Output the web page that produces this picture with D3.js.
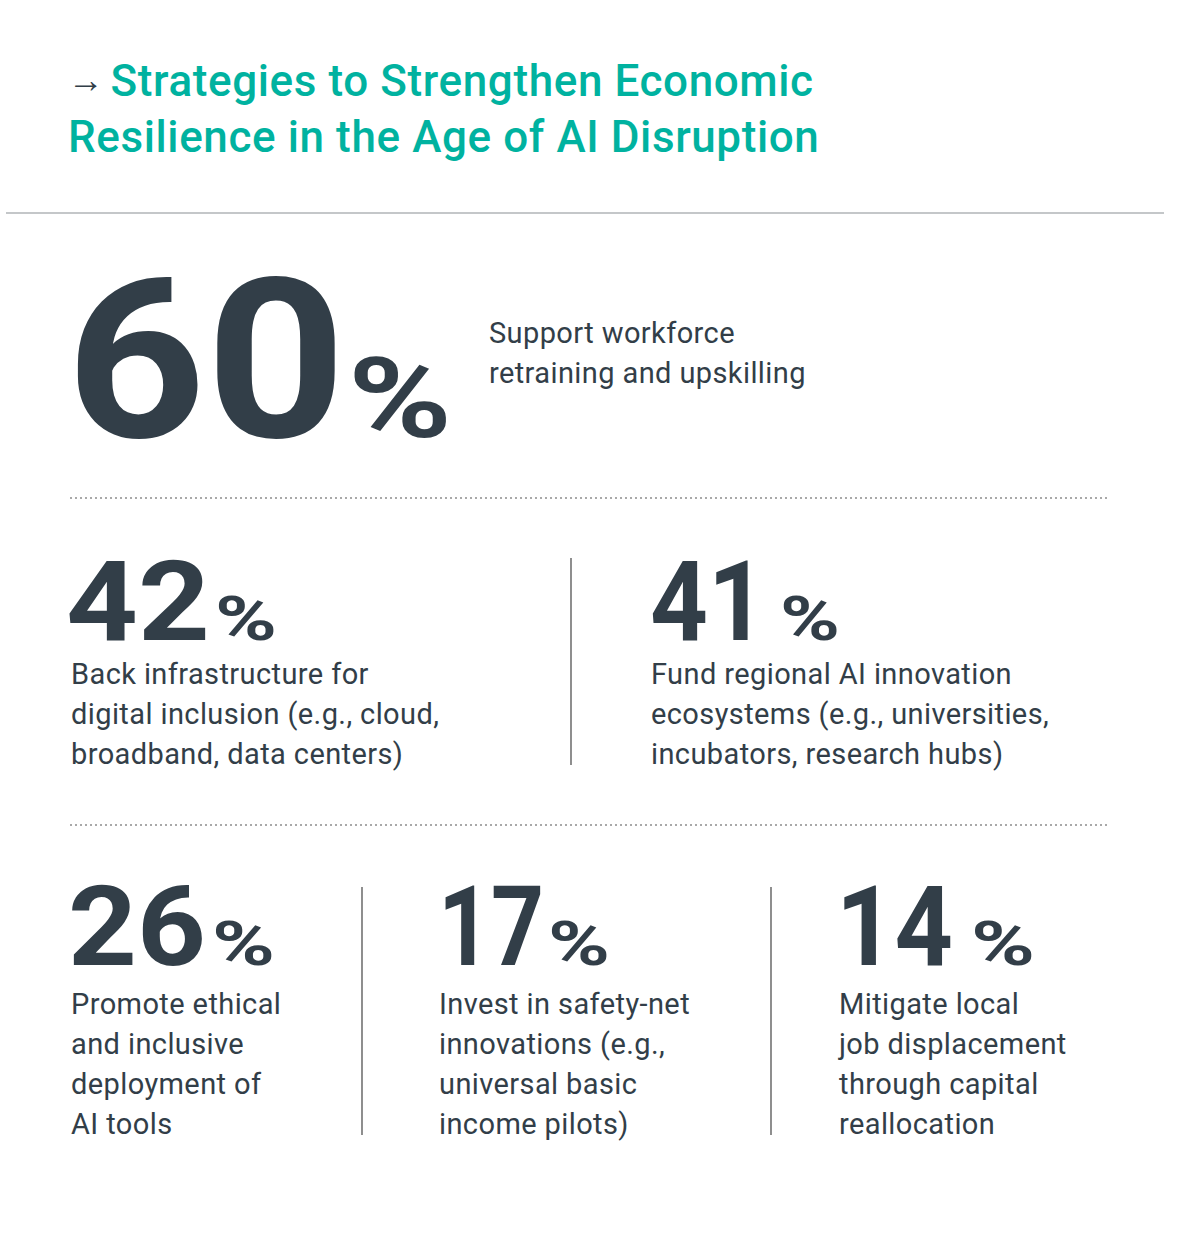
<!DOCTYPE html>
<html><head><meta charset="utf-8">
<script src="https://cdn.jsdelivr.net/npm/d3@7"></script>
<style>body{margin:0;background:#fff}svg{display:block}</style>
</head><body>
<svg id="c" width="1180" height="1254"></svg>
<script>
const titleLines = ['Strategies to Strengthen Economic', 'Resilience in the Age of AI Disruption'];
const values = [60, 42, 41, 26, 17, 14];
const labels = [
  ['Support workforce', 'retraining and upskilling'],
  ['Back infrastructure for', 'digital inclusion (e.g., cloud,', 'broadband, data centers)'],
  ['Fund regional AI innovation', 'ecosystems (e.g., universities,', 'incubators, research hubs)'],
  ['Promote ethical', 'and inclusive', 'deployment of', 'AI tools'],
  ['Invest in safety-net', 'innovations (e.g.,', 'universal basic', 'income pilots)'],
  ['Mitigate local', 'job displacement', 'through capital', 'reallocation']
];

const dark = '#323e48', teal = '#00b2a0';
const svg = d3.select('#c');
const font = 'Roboto, "Open Sans", sans-serif';

// title
const t = svg.append('text').attr('font-family', font).attr('font-size', 44).attr('font-weight', 500)
  .attr('fill', teal).attr('letter-spacing', 0.6);
titleLines.forEach((l, i) => {
  const ts = t.append('tspan').attr('x', 68).attr('y', 96 + i * 56);
  if (i === 0) {
    ts.append('tspan').attr('fill', dark).attr('font-weight', 900).attr('font-size', 36).attr('dy', -4).text('→');
    ts.append('tspan').attr('dy', 4).attr('dx', 6).text(l);
  } else ts.text(l);
});
svg.append('line').attr('x1', 6).attr('x2', 1164).attr('y1', 213).attr('y2', 213).attr('stroke', '#8a8f93').attr('stroke-width', 1.2);

// dotted separators
[498, 825].forEach(y => svg.append('line').attr('x1', 70).attr('x2', 1110).attr('y1', y).attr('y2', y)
  .attr('stroke', '#555').attr('stroke-width', 1.2).attr('stroke-dasharray', '2,3'));

// vertical dividers
[[571, 558, 765], [362, 887, 1135], [771, 887, 1135]].forEach(d => svg.append('line')
  .attr('x1', d[0]).attr('x2', d[0]).attr('y1', d[1]).attr('y2', d[2]).attr('stroke', '#444').attr('stroke-width', 1.2));

const layout = [
  {x: 66, w: 280, px: 348, pw: 104, base: 437, size: 222, psize: 112, lx: 489, ly: 343},
  {x: 66, w: 144, px: 215, pw: 62, base: 640, size: 112, psize: 62, lx: 71, ly: 684},
  {x: 650, w: 116, px: 780, pw: 60, base: 640, size: 112, psize: 62, lx: 651, ly: 684},
  {x: 68, w: 138, px: 212, pw: 63, base: 965, size: 112, psize: 62, lx: 71, ly: 1014},
  {x: 438, w: 106, px: 548, pw: 62, base: 965, size: 112, psize: 62, lx: 439, ly: 1014},
  {x: 836, w: 117, px: 971, pw: 64, base: 965, size: 112, psize: 62, lx: 839, ly: 1014}
];

const g = svg.selectAll('g.stat').data(values).join('g').attr('class', 'stat');
g.append('text')
  .attr('x', (d, i) => layout[i].x).attr('y', (d, i) => layout[i].base)
  .attr('font-family', font).attr('font-weight', 700).attr('fill', dark)
  .attr('font-size', (d, i) => layout[i].size)
  .attr('textLength', (d, i) => layout[i].w).attr('lengthAdjust', 'spacingAndGlyphs')
  .text(d => d);
g.append('text')
  .attr('x', (d, i) => layout[i].px).attr('y', (d, i) => layout[i].base)
  .attr('font-family', font).attr('font-weight', 700).attr('fill', dark)
  .attr('font-size', (d, i) => layout[i].psize)
  .attr('textLength', (d, i) => layout[i].pw).attr('lengthAdjust', 'spacingAndGlyphs')
  .text('%');
g.append('text')
  .attr('font-family', font).attr('font-size', 29).attr('fill', dark).attr('letter-spacing', 0.4)
  .each(function(d, i) {
    d3.select(this).selectAll('tspan').data(labels[i]).join('tspan')
      .attr('x', layout[i].lx).attr('y', (l, j) => layout[i].ly + j * 40).text(l => l);
  });
</script>
</body></html>
